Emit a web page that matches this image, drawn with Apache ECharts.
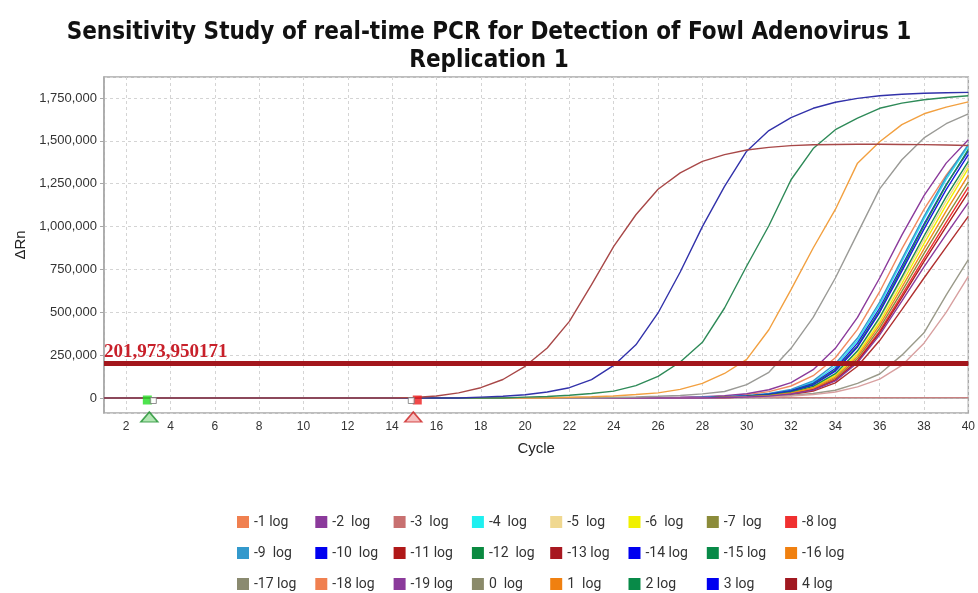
<!DOCTYPE html>
<html><head><meta charset="utf-8">
<script src="https://cdn.jsdelivr.net/npm/echarts@6/dist/echarts.min.js"></script>
<style>html,body{margin:0;padding:0;background:#fff}#c{width:978px;height:593px}</style>
</head><body><div id="c"></div>
<script>
const cycles = [1,2,3,4,5,6,7,8,9,10,11,12,13,14,15,16,17,18,19,20,21,22,23,24,25,26,27,28,29,30,31,32,33,34,35,36,37,38,39,40];

const seriesNames = ["-1 log","-2  log","-3  log","-4  log","-5  log","-6  log","-7  log","-8 log",
  "-9  log","-10  log","-11 log","-12  log","-13 log","-14 log","-15 log","-16 log",
  "-17 log","-18 log","-19 log","0  log","1  log","2 log","3 log","4 log"];
const seriesColors = ["#f08050","#8b3a9b","#c87070","#1ef0f0","#f0d890","#f0f000","#8b8b3a","#f03030",
  "#3399cc","#0000f0","#b01818","#0a8a40","#a81820","#0000f0","#088a48","#f08010",
  "#8a8a70","#f08050","#8b3a9b","#8a8a6a","#f08010","#088a48","#0000f0","#a01820"];
const lineColors = ["#f08a60","#8b3a9b","#c88080","#30e0f0","#f0d890","#f0f000","#8b8b3a","#f03030",
  "#3399cc","#1a1ae0","#b02020","#1a8a50","#b03030","#1a1ae0","#1a8a50","#f08a20",
  "#9a9a8a","#d8a0a0","#8b3a9b","#9a9a96","#f2a040","#2e8a58","#3232aa","#a84848"];

const logM1  = [0,0,0,0,0,0,0,0,0,0,0,0,0,0,0,0,0,0,0,0,0,0,0,0,0,0,0,5000,10000,19000,37000,70000,130000,235000,400000,620000,870000,1100000,1300000,1470000];
const logM2  = [0,0,0,0,0,0,0,0,0,0,0,0,0,0,0,0,0,0,0,0,0,0,0,0,0,2000,4000,7000,13000,25000,48000,90000,165000,290000,470000,700000,950000,1180000,1370000,1507000];
const logM3  = [2000,2000,2000,2000,2000,2000,2000,2000,2000,2000,2000,2000,2000,2000,2000,2000,2000,2000,2000,2000,2000,2000,2000,2000,2000,2000,2000,2000,2000,2000,2000,2000,2000,2000,2000,2000,2000,2000,2000,2000];
const logM4  = [0,0,0,0,0,0,0,0,0,0,0,0,0,0,0,0,0,0,0,0,0,0,0,0,0,0,0,0,6000,12000,24000,46000,92000,185000,335000,545000,795000,1045000,1275000,1470000];
const logM5  = [0,0,0,0,0,0,0,0,0,0,0,0,0,0,0,0,0,0,0,0,0,0,0,0,0,0,0,0,4000,8000,16000,33000,66000,138000,268000,460000,690000,925000,1150000,1360000];
const logM6  = [0,0,0,0,0,0,0,0,0,0,0,0,0,0,0,0,0,0,0,0,0,0,0,0,0,0,0,0,4000,8000,15000,31000,62000,130000,255000,442000,668000,900000,1125000,1340000];
const logM7  = [0,0,0,0,0,0,0,0,0,0,0,0,0,0,0,0,0,0,0,0,0,0,0,0,0,0,0,0,4000,7000,13000,27000,54000,114000,230000,408000,622000,842000,1055000,1260000];
const logM8  = [0,0,0,0,0,0,0,0,0,0,0,0,0,0,0,0,0,0,0,0,0,0,0,0,0,0,0,0,3000,6000,12000,25000,50000,107000,218000,390000,600000,815000,1025000,1230000];
const logM9  = [0,0,0,0,0,0,0,0,0,0,0,0,0,0,0,0,0,0,0,0,0,0,0,0,0,0,0,4000,7000,13000,26000,50000,100000,200000,350000,560000,810000,1060000,1290000,1480000];
const logM10 = [0,0,0,0,0,0,0,0,0,0,0,0,0,0,0,0,0,0,0,0,0,0,0,0,0,0,0,0,6000,11000,22000,43000,85000,172000,320000,525000,770000,1015000,1245000,1440000];
const logM11 = [0,0,0,0,0,0,0,0,0,0,0,0,0,0,0,0,0,0,0,0,0,0,0,0,0,0,0,0,3000,6000,12000,24000,48000,103000,212000,380000,585000,795000,1000000,1200000];
const logM12 = [0,0,0,0,0,0,0,0,0,0,0,0,0,0,0,0,0,0,0,0,0,0,0,0,0,0,0,0,5000,10000,20000,40000,80000,163000,305000,510000,755000,1005000,1240000,1450000];
const logM13 = [0,0,0,0,0,0,0,0,0,0,0,0,0,0,0,0,0,0,0,0,0,0,0,0,0,0,0,0,3000,5000,10000,20000,40000,88000,185000,335000,515000,700000,880000,1060000];
const logM14 = [0,0,0,0,0,0,0,0,0,0,0,0,0,0,0,0,0,0,0,0,0,0,0,0,0,0,0,0,5000,10000,19000,38000,76000,157000,298000,500000,740000,985000,1215000,1420000];
const logM15 = [0,0,0,0,0,0,0,0,0,0,0,0,0,0,0,0,0,0,0,0,0,0,0,0,0,0,0,0,5000,9000,17000,34000,68000,142000,275000,470000,705000,945000,1175000,1380000];
const logM16 = [0,0,0,0,0,0,0,0,0,0,0,0,0,0,0,0,0,0,0,0,0,0,0,0,0,0,0,0,4000,7000,14000,29000,58000,122000,242000,425000,645000,870000,1090000,1300000];
const logM17 = [0,0,0,0,0,0,0,0,0,0,0,0,0,0,0,0,0,0,0,0,0,0,0,0,0,0,0,0,3000,6000,10000,16000,26000,45000,85000,140000,250000,380000,600000,807000];
const logM18 = [0,0,0,0,0,0,0,0,0,0,0,0,0,0,0,0,0,0,0,0,0,0,0,0,0,0,0,0,2000,4000,7000,12000,20000,35000,65000,110000,190000,320000,500000,709000];
const logM19 = [0,0,0,0,0,0,0,0,0,0,0,0,0,0,0,0,0,0,0,0,0,0,0,0,0,0,0,0,3000,6000,11000,23000,46000,100000,206000,368000,565000,765000,955000,1140000];
const log0   = [0,0,0,0,0,0,0,0,0,0,0,0,0,0,0,0,0,0,0,0,0,0,0,3000,6000,10000,15000,24000,38000,78000,150000,290000,470000,700000,960000,1220000,1390000,1517000,1600000,1658000];
const log1   = [0,0,0,0,0,0,0,0,0,0,0,0,0,0,0,0,0,0,0,0,0,4000,7000,12000,20000,30000,50000,85000,143000,225000,398000,632000,875000,1100000,1370000,1495000,1595000,1658000,1697000,1727000];
const log2   = [0,0,0,0,0,0,0,0,0,0,0,0,0,0,0,0,0,0,0,5000,9000,16000,26000,40000,72000,126000,210000,325000,525000,770000,1005000,1273000,1455000,1565000,1633000,1690000,1720000,1740000,1753000,1763000];
const log3   = [0,0,0,0,0,0,0,0,0,0,0,0,0,0,0,0,0,5000,10000,19000,35000,60000,107000,190000,310000,496000,735000,1000000,1234000,1440000,1560000,1635000,1690000,1725000,1748000,1763000,1772000,1778000,1781000,1783000];
const log4   = [0,0,0,0,0,0,0,0,0,0,0,0,0,0,3000,12000,30000,60000,108000,185000,292000,447000,661000,884000,1069000,1218000,1313000,1380000,1420000,1447000,1462000,1472000,1477000,1479000,1480000,1480000,1479000,1478000,1476000,1473000];

const seriesValues = [logM1,logM2,logM3,logM4,logM5,logM6,logM7,logM8,logM9,logM10,logM11,logM12,
  logM13,logM14,logM15,logM16,logM17,logM18,logM19,log0,log1,log2,log3,log4];

const thresholdValue = 201973.950171;
const thresholdLabel = "201,973,950171";
const baselineStart = 3;
const baselineEnd = 15;

const chart = echarts.init(document.getElementById('c'), null, {renderer:'canvas'});

const series = seriesNames.map((n, i) => ({
  name: n, type: 'line', showSymbol: false, symbol: 'none',
  data: cycles.map((c, k) => [c, seriesValues[i][k]]),
  itemStyle: {color: seriesColors[i]},
  lineStyle: {color: lineColors[i], width: 1.4},
  emphasis: {disabled: true}, z: 2
}));

series.push({
  name: 'threshold', type: 'line', data: [], z: 5,
  markLine: {
    silent: true, symbol: 'none', animation: false,
    lineStyle: {color: '#a3161c', width: 5, type: 'solid'},
    label: {show: true, position: 'insideStartTop', formatter: thresholdLabel,
      fontFamily: 'Liberation Serif', fontWeight: 'bold', fontSize: 19, color: '#c8202a', distance: [0, 2]},
    data: [{yAxis: thresholdValue}]
  }
});

series.push({
  name: 'markers', type: 'scatter', clip: false, z: 6, silent: true,
  data: [
    {value: [baselineStart, 0], symbol: 'triangle', symbolSize: [17, 10], symbolOffset: [1, 19],
      itemStyle: {color: '#9fe0a0', borderColor: '#1d8f2e', borderWidth: 1.5}},
    {value: [baselineStart, 0], symbol: 'rect', symbolSize: 9, symbolOffset: [-1, 2],
      itemStyle: {color: '#22dd22'}},
    {value: [baselineStart, 0], symbol: 'rect', symbolSize: 6, symbolOffset: [5, 2.5],
      itemStyle: {color: '#ffffff', borderColor: '#777', borderWidth: 1}},
    {value: [baselineEnd, 0], symbol: 'triangle', symbolSize: [17, 10], symbolOffset: [-1, 19],
      itemStyle: {color: '#f4b0b0', borderColor: '#cc2020', borderWidth: 1.5}},
    {value: [baselineEnd, 0], symbol: 'rect', symbolSize: 9, symbolOffset: [3, 2],
      itemStyle: {color: '#ee1c1c'}},
    {value: [baselineEnd, 0], symbol: 'rect', symbolSize: 6, symbolOffset: [-3, 2.5],
      itemStyle: {color: '#ffffff', borderColor: '#777', borderWidth: 1}}
  ]
});

const legendRowTops = [515, 546, 577];
const legends = seriesNames.map((n, i) => ({
  orient: 'horizontal', left: 237 + (i % 8) * 78.3, top: legendRowTops[Math.floor(i / 8)],
  padding: 0, itemWidth: 12, itemHeight: 12, itemGap: 0,
  icon: 'rect', selectedMode: false, data: [n],
  textStyle: {fontFamily: 'Roboto', fontSize: 14, color: '#333'}
}));

chart.setOption({
  animation: false,
  backgroundColor: '#fff',
  title: {
    text: 'Sensitivity Study of real-time PCR for Detection of Fowl Adenovirus 1\nReplication 1',
    left: 'center', top: 14,
    textStyle: {fontFamily: 'DejaVu Sans Condensed', fontWeight: 'bold', fontSize: 24, color: '#111', lineHeight: 28}
  },
  legend: legends,
  grid: {left: 104, right: 6, top: 77, bottom: 180, show: true, borderColor: '#a8a8a8', borderWidth: 1.5, backgroundColor: '#fff'},
  xAxis: {
    type: 'value', min: 1, max: 40, minInterval: 2, maxInterval: 2,
    name: 'Cycle', nameLocation: 'middle', nameGap: 28,
    nameTextStyle: {fontFamily: 'Arial', fontSize: 15, color: '#222'},
    axisLine: {show: true, lineStyle: {color: '#a8a8a8', width: 1.5}},
    axisTick: {show: false},
    axisLabel: {fontFamily: 'Arial', fontSize: 12, color: '#333', margin: 8, showMinLabel: false, showMaxLabel: true},
    splitLine: {show: true, lineStyle: {color: '#d4d4d4', type: [3, 3], width: 1}}
  },
  yAxis: {
    type: 'value', min: -87500, max: 1872500, minInterval: 250000, maxInterval: 250000,
    name: 'ΔRn', nameLocation: 'middle', nameGap: 64,
    nameTextStyle: {fontFamily: 'Arial', fontSize: 15, color: '#222'},
    axisLine: {show: true, lineStyle: {color: '#a8a8a8', width: 1.5}},
    axisTick: {show: true, length: 4, lineStyle: {color: '#a8a8a8'}},
    axisLabel: {fontFamily: 'Arial', fontSize: 13, color: '#333', margin: 7, showMinLabel: false, showMaxLabel: false,
      formatter: v => (v % 250000 === 0 ? v.toLocaleString('en-US') : '')},
    splitLine: {show: true, lineStyle: {color: '#d4d4d4', type: [3, 3], width: 1}}
  },
  series: series
});
</script></body></html>
